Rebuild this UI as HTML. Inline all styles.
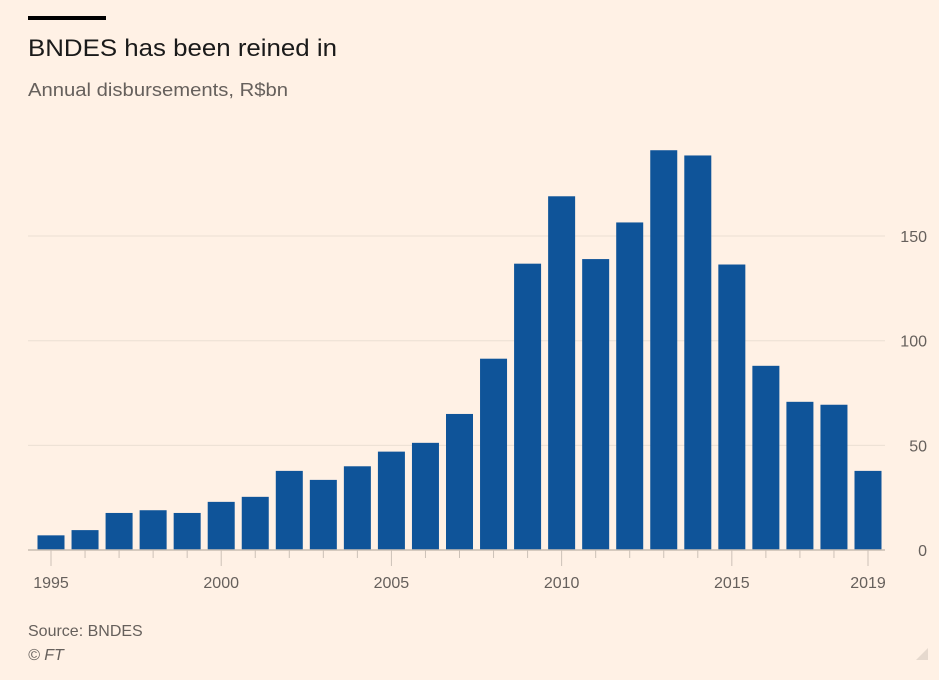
<!DOCTYPE html>
<html><head><meta charset="utf-8"><style>
body{margin:0;background:#fff1e5;font-family:"Liberation Sans",sans-serif;}
</style></head><body>
<svg width="939" height="680" style="display:block">
<rect x="0" y="0" width="939" height="680" fill="#fff1e5"/>
<rect x="28" y="16" width="78" height="4" fill="#000"/>
<text x="28" y="56" font-size="24" fill="#1a1a1a" textLength="309" lengthAdjust="spacingAndGlyphs">BNDES has been reined in</text>
<text x="28" y="96" font-size="18" fill="#66605c" textLength="260" lengthAdjust="spacingAndGlyphs">Annual disbursements, R$bn</text>
<g id="grid"></g><g id="bars"></g><g id="axes"></g>
<text x="28" y="636" font-size="16" fill="#66605c">Source: BNDES</text>
<text x="28" y="660" font-size="16" font-style="italic" fill="#66605c">© FT</text>
<polygon points="928,648 928,660 916,660" fill="#e6d9ce"/>
</svg>
<script>
const years=[1995,1996,1997,1998,1999,2000,2001,2002,2003,2004,2005,2006,2007,2008,2009,2010,2011,2012,2013,2014,2015,2016,2017,2018,2019];
const values=[7,9.5,17.7,19,17.7,23,25.4,37.8,33.5,40,47,51.2,65,91.4,136.8,169,139,156.5,191,188.5,136.4,88,70.8,69.4,37.8];
const yTicks=[0,50,100,150];
const xLabels=[1995,2000,2005,2010,2015,2019];
const NS="http://www.w3.org/2000/svg";
const y0=550,ppu=2.093,x0=51,step=(868-51)/24,bw=27;
const ys=v=>y0-v*ppu, xs=yr=>x0+(yr-1995)*step;
function mk(t,a,p){const e=document.createElementNS(NS,t);for(const k in a)e.setAttribute(k,a[k]);p.appendChild(e);return e;}
const g=document.getElementById('grid'),b=document.getElementById('bars'),ax=document.getElementById('axes');
yTicks.forEach(v=>{
 if(v>0){const l=mk('line',{x1:28,x2:885,y1:ys(v),y2:ys(v),stroke:'#ebdfd4','stroke-width':1},g);
 
 }
 const t=mk('text',{x:927,y:ys(v)+6,'text-anchor':'end','font-size':16,fill:'#66605c'},ax);
 t.textContent=v;
 
 
});
years.forEach((yr,i)=>{
 const r=mk('rect',{x:xs(yr)-bw/2,y:ys(values[i]),width:bw,height:values[i]*ppu,fill:'#0f5499'},b);
 
 
 const major=xLabels.includes(yr);
 const tk=mk('line',{x1:xs(yr),x2:xs(yr),y1:y0,y2:y0+(major?16:8),stroke:'#ccc1b7','stroke-width':1},ax);
 
 
});
const bl=mk('line',{x1:28,x2:885,y1:y0,y2:y0,stroke:'#c9bdb2','stroke-width':1.5},ax);


xLabels.forEach(yr=>{
 const t=mk('text',{x:xs(yr),y:588,'text-anchor':'middle','font-size':16,fill:'#66605c'},ax);
 t.textContent=yr;
 
 
});
</script>
</body></html>
